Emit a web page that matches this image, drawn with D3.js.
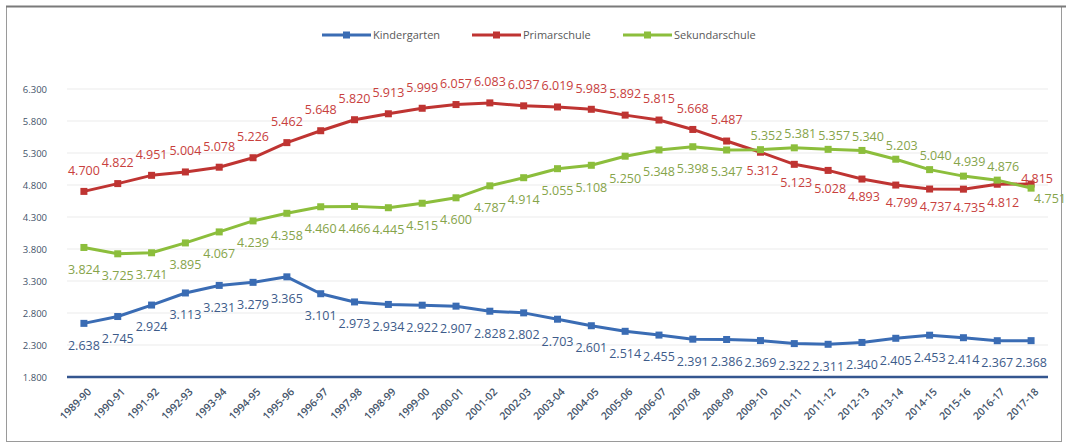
<!DOCTYPE html>
<html>
<head>
<meta charset="utf-8">
<script src="https://cdn.jsdelivr.net/npm/d3@7"></script>
<style>
  body { margin: 0; background: #fff; }
  text { font-family: "Open Sans", sans-serif; }
</style>
</head>
<body>
<script>
// DATA
var years = ["1989-90","1990-91","1991-92","1992-93","1993-94","1994-95","1995-96","1996-97","1997-98","1998-99",
  "1999-00","2000-01","2001-02","2002-03","2003-04","2004-05","2005-06","2006-07","2007-08","2008-09",
  "2009-10","2010-11","2011-12","2012-13","2013-14","2014-15","2015-16","2016-17","2017-18"];
var kindergarten = [2638,2745,2924,3113,3231,3279,3365,3101,2973,2934,2922,2907,2828,2802,2703,2601,2514,2455,2391,2386,
  2369,2322,2311,2340,2405,2453,2414,2367,2368];
var primarschule = [4700,4822,4951,5004,5078,5226,5462,5648,5820,5913,5999,6057,6083,6037,6019,5983,5892,5815,5668,5487,
  5312,5123,5028,4893,4799,4737,4735,4812,4815];
var sekundarschule = [3824,3725,3741,3895,4067,4239,4358,4460,4466,4445,4515,4600,4787,4914,5055,5108,5250,5348,5398,5347,
  5352,5381,5357,5340,5203,5040,4939,4876,4751];
var seriesNames = ["Kindergarten","Primarschule","Sekundarschule"];
var yTicks = [1800,2300,2800,3300,3800,4300,4800,5300,5800,6300];

//SVG VARIABLES
var width = 1066, height = 445;
var plotLeft = 67, plotRight = 1048, plotTop = 89, plotBottom = 377;

var svg = d3.select("body").append("svg")
    .attr("width", width)
    .attr("height", height);

// frame
svg.append("rect").attr("x", 6.5).attr("y", 6.5).attr("width", 1055).attr("height", 435)
   .attr("fill", "#fff").attr("stroke", "#9a9a9a").attr("stroke-width", 1);
svg.append("line").attr("x1", 6).attr("x2", 1066).attr("y1", 6.5).attr("y2", 6.5)
   .attr("stroke", "#7a7a7a").attr("stroke-width", 2);

var fmt = d3.formatLocale({decimal: ",", thousands: ".", grouping: [3], currency: ["", ""]}).format(",d");

var x = d3.scalePoint().domain(years).range([plotLeft, plotRight]).padding(0.5);
var y = d3.scaleLinear().domain([1800, 6300]).range([plotBottom, plotTop]);

// grid
svg.append("g").selectAll("line")
   .data(yTicks.slice(1))
   .enter().append("line")
   .attr("x1", plotLeft).attr("x2", plotRight)
   .attr("y1", function(d){ return y(d); }).attr("y2", function(d){ return y(d); })
   .attr("stroke", "#ebebeb").attr("stroke-width", 1);

// y axis labels
var yAxis = svg.append("g").attr("transform", "translate(" + (plotLeft - 20) + ",0)")
   .call(d3.axisLeft(y).tickValues(yTicks).tickFormat(fmt).tickSize(0).tickPadding(0));
yAxis.select(".domain").remove();
yAxis.selectAll("text").attr("fill", "#44546a").style("font-size", "9.5px").style("font-family", "Open Sans");

// x axis
var xAxis = svg.append("g").attr("transform", "translate(0," + plotBottom + ")")
   .call(d3.axisBottom(x).tickSize(0).tickPadding(0));
xAxis.select(".domain").remove();
xAxis.selectAll("text")
   .attr("fill", "#44546a").style("font-size", "10.5px").style("font-weight", "600").style("font-family", "Open Sans")
   .attr("text-anchor", "end")
   .attr("transform", "translate(5,13) rotate(-45)")
   .attr("dy", "0.35em").attr("y", 0);
svg.append("line").attr("x1", plotLeft).attr("x2", plotRight).attr("y1", plotBottom).attr("y2", plotBottom)
   .attr("stroke", "#34568f").attr("stroke-width", 2.5);

// series
var lineColors = ["#3a6cb4", "#bf3432", "#8cbe3c"];
var labelColors = ["#3d5b8a", "#c8403d", "#86a44a"];
var allSeries = [kindergarten, primarschule, sekundarschule];

// label placement per series and index
function labelPos(s, i) {
  if (s === 0) return {dx: 0, dy: 22, anchor: "middle"};
  if (s === 1) {
    if (i < 20) return {dx: 0, dy: -21, anchor: "middle"};
    if (i < 28) return {dx: i >= 24 ? 6 : 2, dy: 18, anchor: "middle"};
    return {dx: 6, dy: -5, anchor: "middle"};
  }
  if (i < 20) return {dx: 0, dy: 22, anchor: "middle"};
  if (i < 28) return {dx: 6, dy: -14, anchor: "middle"};
  return {dx: 3, dy: 10, anchor: "start"};
}

var line = d3.line().x(function(d, i){ return x(years[i]); }).y(function(d){ return y(d); });

allSeries.forEach(function(vals, s) {
  var g = svg.append("g").attr("id", seriesNames[s]);
  g.append("path").datum(vals).attr("d", line)
   .attr("fill", "none").attr("stroke", lineColors[s]).attr("stroke-width", 3).attr("stroke-linejoin", "round");
  g.selectAll("rect").data(vals).enter().append("rect")
   .attr("x", function(d, i){ return x(years[i]) - 3.5; })
   .attr("y", function(d){ return y(d) - 3.5; })
   .attr("width", 7).attr("height", 7)
   .attr("fill", lineColors[s]);
});

allSeries.forEach(function(vals, s) {
  svg.append("g").selectAll("text").data(vals).enter().append("text")
   .attr("x", function(d, i){ return x(years[i]) + labelPos(s, i).dx; })
   .attr("y", function(d, i){ return y(d) + labelPos(s, i).dy; })
   .attr("dy", "0.35em")
   .attr("text-anchor", function(d, i){ return labelPos(s, i).anchor; })
   .attr("fill", labelColors[s])
   .style("font-size", "12.5px")
   .text(function(d){ return fmt(d); });
});

// legend
var legendX = [322, 472, 623];
var legend = svg.append("g").attr("transform", "translate(0,35)");
seriesNames.forEach(function(name, s) {
  var lg = legend.append("g").attr("transform", "translate(" + legendX[s] + ",0)");
  lg.append("line").attr("x1", 0).attr("x2", 49).attr("y1", 0).attr("y2", 0)
    .attr("stroke", lineColors[s]).attr("stroke-width", 3);
  lg.append("rect").attr("x", 21).attr("y", -3.5).attr("width", 7).attr("height", 7).attr("fill", lineColors[s]);
  lg.append("text").attr("x", 51).attr("y", 0).attr("dy", "0.35em")
    .attr("fill", "#595959").style("font-size", "11px").text(name);
});
</script>
</body>
</html>
